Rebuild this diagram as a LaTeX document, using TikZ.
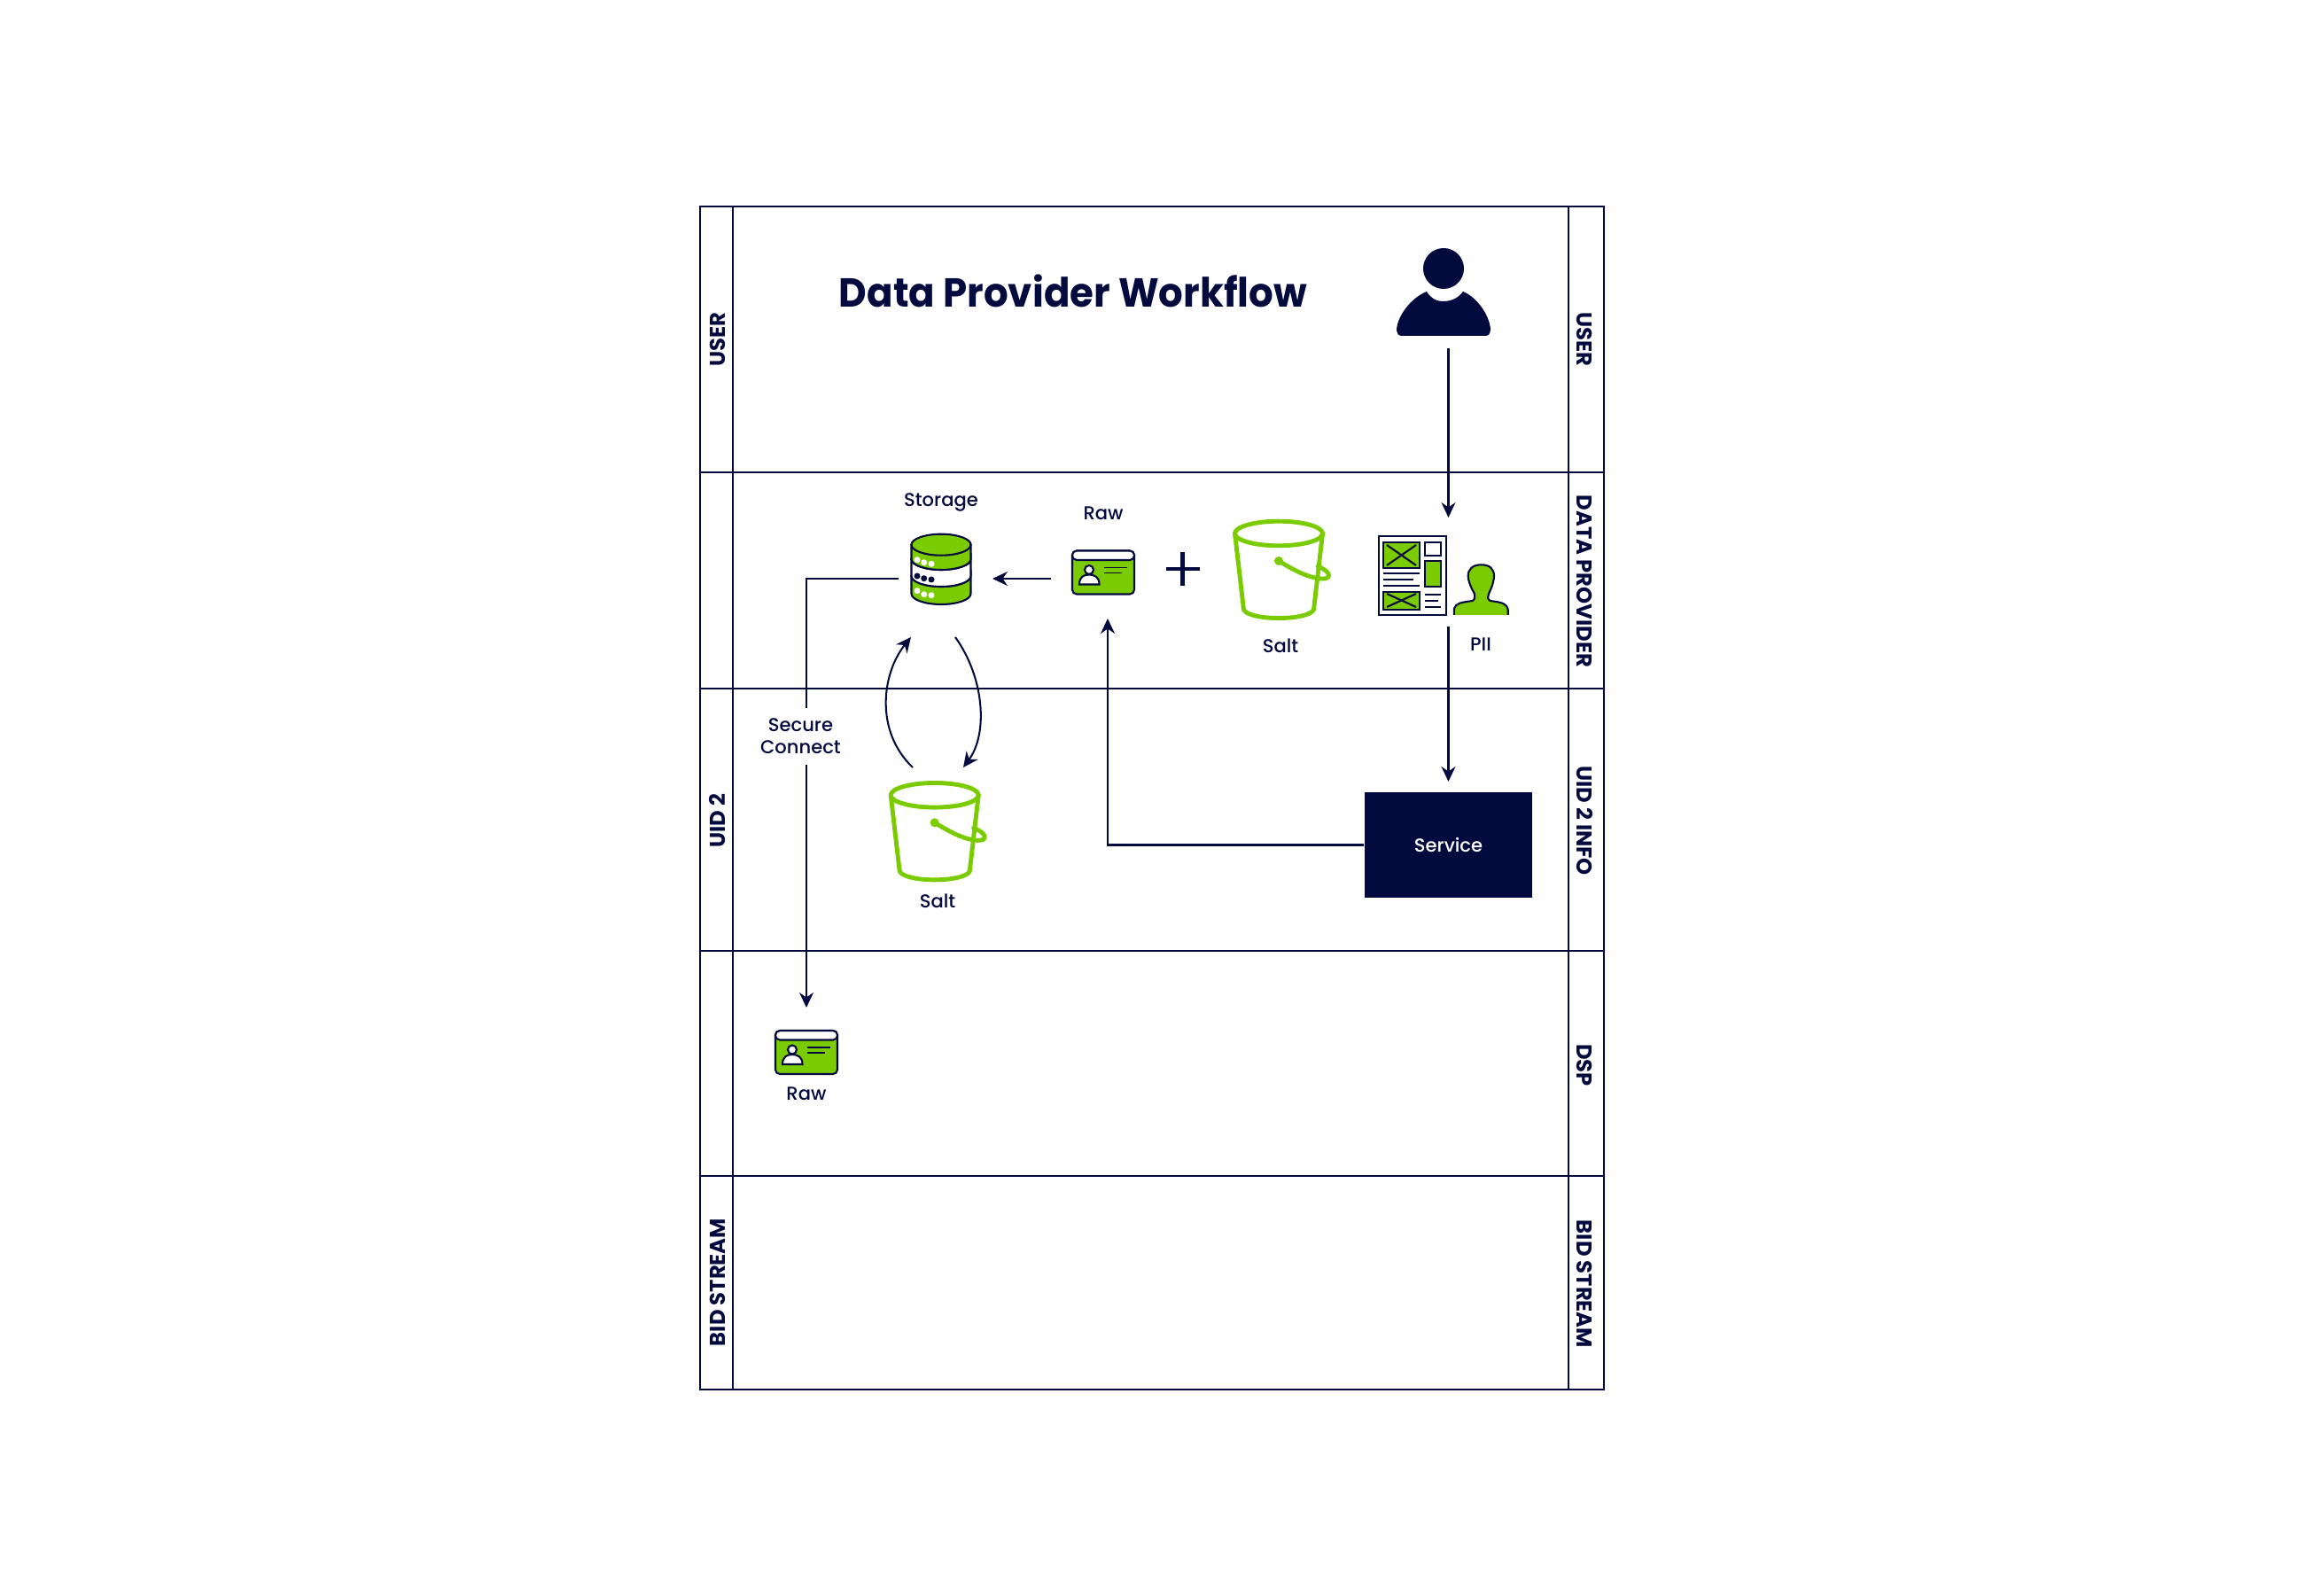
\documentclass[tikz,border=0pt]{standalone}
\usepackage{fontspec}
\setmainfont{Poppins}
\newfontfamily\labelfont{Poppins Medium}
\usetikzlibrary{arrows.meta}
\definecolor{navy}{HTML}{030B3E}
\definecolor{leaf}{HTML}{7ACC00}
\tikzset{
    >={Stealth[length=0.17cm, width=0.16cm]},
    frameline/.style={draw=navy, line width=0.65pt},
    link/.style={draw=navy, line width=0.58pt},
    sidelabel/.style={text=navy, font=\fontsize{6.9}{8}\selectfont\bfseries, inner sep=0pt},
    label/.style={text=navy, font=\fontsize{6}{7.2}\selectfont\labelfont, inner sep=0pt, align=center},
    iconline/.style={draw=navy, line width=0.6pt},
    bucketline/.style={draw=leaf, line width=1.4pt, line join=round, line cap=round},
    pics/saltbucket/.style={code={
        \draw[bucketline] (0,0) ellipse (0.495 and 0.138);
        \draw[bucketline] (-0.495,0) -- (-0.395,-0.86) .. controls (-0.33,-0.987) and (0.33,-0.987) .. (0.395,-0.86) -- (0.495,0);
        \fill[leaf] (0,-0.31) circle (0.05);
        \draw[bucketline] (0,-0.31) .. controls (0.15,-0.40) and (0.32,-0.50) .. (0.48,-0.51) .. controls (0.59,-0.52) and (0.61,-0.44) .. (0.44,-0.37);
    }},
    pics/rawcard/.style={code={
        \filldraw[iconline, fill=leaf, rounded corners=0.05cm] (-0.35,-0.245) rectangle (0.35,0.245);
        \filldraw[iconline, fill=white, rounded corners=0.05cm] (-0.35,0.14) -- (-0.35,0.245) -- (0.35,0.245) -- (0.35,0.14) -- cycle;
        \filldraw[iconline, fill=white] (-0.16,0.03) circle (0.05);
        \filldraw[iconline, fill=white] (-0.27,-0.135) .. controls (-0.27,-0.05) and (-0.22,-0.025) .. (-0.16,-0.025) .. controls (-0.10,-0.025) and (-0.045,-0.05) .. (-0.045,-0.135) -- cycle;
        \draw[iconline, line width=0.45pt] (0.007,0.055) -- (0.267,0.055);
        \draw[iconline, line width=0.45pt] (0.007,-0.005) -- (0.21,-0.005);
    }}
}
\begin{document}
\begin{tikzpicture}
    \useasboundingbox (0,0) rectangle (26,18);

    % swim lanes
    \draw[frameline] (7.90,2.32) rectangle (18.10,15.67);
    \foreach \rowy in {12.67,10.23,7.27,4.73}
        \draw[frameline] (7.90,\rowy) -- (18.10,\rowy);
    \foreach \colx in {8.27,17.70}
        \draw[frameline] (\colx,2.32) -- (\colx,15.67);

    \node[sidelabel, rotate=90] (leftuser) at (8.10,14.17) {USER};
    \node[sidelabel, rotate=90] (leftuid) at (8.10,8.74) {UID 2};
    \node[sidelabel, rotate=90] (leftbid) at (8.10,3.53) {BID STREAM};
    \node[sidelabel, rotate=-90] (rightuser) at (17.88,14.17) {USER};
    \node[sidelabel, rotate=-90] (rightdata) at (17.88,11.44) {DATA PROVIDER};
    \node[sidelabel, rotate=-90] (rightuid) at (17.88,8.74) {UID 2 INFO};
    \node[sidelabel, rotate=-90] (rightdsp) at (17.88,5.98) {DSP};
    \node[sidelabel, rotate=-90] (rightbid) at (17.88,3.51) {BID STREAM};

    \node[text=navy, font=\fontsize{13}{15}\selectfont\bfseries, inner sep=0pt, anchor=base, xscale=0.952] (title) at (12.11,14.53) {Data Provider Workflow};

    % user
    \fill[navy] (16.29,14.97) circle (0.23);
    \fill[navy] (15.82,14.21) -- (16.76,14.21) .. controls (16.80,14.21) and (16.82,14.24) .. (16.82,14.27) .. controls (16.82,14.42) and (16.68,14.64) .. (16.51,14.71) .. controls (16.46,14.64) and (16.38,14.60) .. (16.29,14.60) .. controls (16.20,14.60) and (16.14,14.64) .. (16.10,14.71) .. controls (15.92,14.64) and (15.76,14.42) .. (15.76,14.27) .. controls (15.76,14.24) and (15.78,14.21) .. (15.82,14.21) -- cycle;

    % document and person
    \draw[iconline] (15.557,11.06) rectangle (16.32,11.953);
    \filldraw[iconline, fill=leaf] (15.61,11.593) rectangle (16.023,11.88);
    \draw[iconline] (15.65,11.62) -- (15.98,11.85);
    \draw[iconline] (15.65,11.85) -- (15.98,11.62);
    \filldraw[iconline, fill=white] (16.083,11.727) rectangle (16.26,11.88);
    \filldraw[iconline, fill=leaf] (16.083,11.38) rectangle (16.26,11.667);
    \draw[iconline] (15.61,11.53) -- (16.023,11.53);
    \draw[iconline] (15.61,11.46) -- (15.95,11.46);
    \draw[iconline] (15.61,11.387) -- (16.023,11.387);
    \filldraw[iconline, fill=leaf] (15.61,11.123) rectangle (16.023,11.323);
    \draw[iconline] (15.65,11.15) -- (15.98,11.30);
    \draw[iconline] (15.65,11.30) -- (15.98,11.15);
    \draw[iconline] (16.083,11.293) -- (16.26,11.293);
    \draw[iconline] (16.083,11.22) -- (16.227,11.22);
    \draw[iconline] (16.083,11.147) -- (16.26,11.147);
    \filldraw[iconline, fill=leaf] (16.41,11.06) -- (16.41,11.133) .. controls (16.43,11.19) and (16.47,11.20) .. (16.617,11.22) .. controls (16.65,11.24) and (16.64,11.27) .. (16.64,11.30) .. controls (16.58,11.40) and (16.567,11.47) .. (16.567,11.50) .. controls (16.567,11.58) and (16.62,11.627) .. (16.717,11.627) .. controls (16.81,11.627) and (16.86,11.58) .. (16.86,11.50) .. controls (16.86,11.47) and (16.85,11.40) .. (16.80,11.30) .. controls (16.79,11.27) and (16.78,11.24) .. (16.817,11.22) .. controls (16.96,11.20) and (17.00,11.19) .. (17.017,11.12) -- (17.017,11.06);
    \node[label] (pii) at (16.71,10.725) {PII};

    % salt and raw of the provider
    \pic at (14.43,11.98) {saltbucket};
    \node[label] (saltone) at (14.45,10.71) {Salt};
    \draw[navy, line width=1.2pt] (13.155,11.583) -- (13.535,11.583);
    \draw[navy, line width=1.2pt] (13.345,11.393) -- (13.345,11.773);
    \pic at (12.45,11.54) {rawcard};
    \node[label] (rawone) at (12.45,12.205) {Raw};

    % storage
    \filldraw[iconline, fill=leaf] (10.285,11.50) -- (10.285,11.30) arc (180:360:0.335 and 0.12) -- (10.955,11.50) arc (0:-180:0.335 and 0.12) -- cycle;
    \filldraw[iconline, fill=white] (10.285,11.69) -- (10.285,11.50) arc (180:360:0.335 and 0.12) -- (10.955,11.69) arc (0:-180:0.335 and 0.12) -- cycle;
    \filldraw[iconline, fill=leaf] (10.285,11.853) -- (10.285,11.69) arc (180:360:0.335 and 0.12) -- (10.955,11.853) -- cycle;
    \filldraw[iconline, fill=leaf] (10.62,11.853) ellipse (0.335 and 0.12);
    \foreach \dotx/\doty in {10.35/11.683,10.427/11.653,10.51/11.637,10.35/11.333,10.427/11.293,10.51/11.283}
        \fill[white] (\dotx,\doty) circle (0.035);
    \foreach \dotx/\doty in {10.35/11.50,10.427/11.473,10.51/11.46}
        \fill[navy] (\dotx,\doty) circle (0.035);
    \node[label] (storage) at (10.62,12.335) {Storage};

    % salt of uid 2
    \pic at (10.547,9.027) {saltbucket};
    \node[label] (salttwo) at (10.58,7.83) {Salt};

    % service
    \node[fill=navy, text=white, font=\fontsize{6}{7.2}\selectfont\labelfont, minimum width=1.89cm, minimum height=1.19cm, inner sep=0pt] (service) at (16.345,8.465) {Service};

    % raw of the dsp
    \pic at (9.10,6.125) {rawcard};
    \node[label] (rawtwo) at (9.10,5.655) {Raw};

    % ends of the connectors
    \coordinate (userout) at (16.345,14.07);
    \coordinate (docin) at (16.345,12.16);
    \coordinate (docout) at (16.345,10.93);
    \coordinate (servicein) at (16.345,9.18);
    \coordinate (rawin) at (12.50,11.02);
    \coordinate (rawout) at (11.86,11.47);
    \coordinate (storagein) at (11.20,11.47);
    \coordinate (storageout) at (10.136,11.47);
    \coordinate (dspin) at (9.10,6.63);
    \coordinate (saltup) at (10.30,9.34);
    \coordinate (storagedown) at (10.28,10.81);
    \coordinate (storagefrom) at (10.78,10.81);
    \coordinate (saltdown) at (10.87,9.34);

    \draw[link, ->] (userout) -- (docin);
    \draw[link, ->] (docout) -- (servicein);
    \draw[link, ->] (service) -| (rawin);
    \draw[link, ->] (rawout) -- (storagein);
    \draw[link, ->] (storageout) -| (dspin);
    \draw[link, ->] (saltup) .. controls (9.87,9.75) and (9.95,10.40) .. (storagedown);
    \draw[link, ->] (storagefrom) .. controls (11.11,10.35) and (11.15,9.72) .. (saltdown);

    \node[label, fill=white, minimum height=0.64cm] (secure) at (9.035,9.69) {Secure\\Connect};
\end{tikzpicture}
\end{document}
